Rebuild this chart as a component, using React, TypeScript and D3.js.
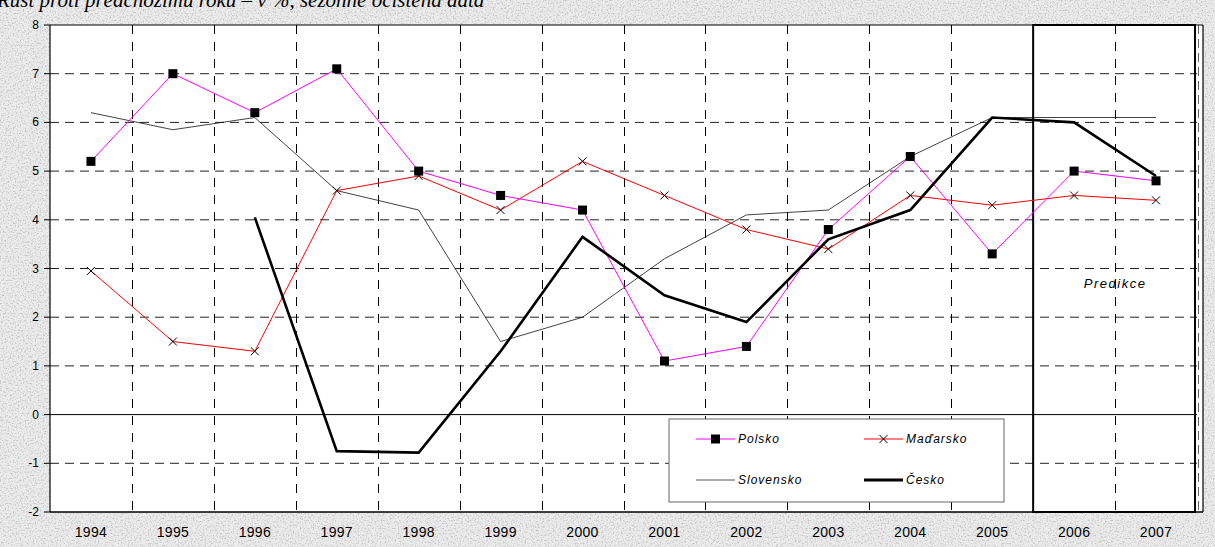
import * as d3 from 'd3'
import { FC } from 'react'

// years on the x axis
const years = ['1994', '1995', '1996', '1997', '1998', '1999', '2000', '2001', '2002', '2003', '2004', '2005', '2006', '2007']
const yTicks = [-2, -1, 0, 1, 2, 3, 4, 5, 6, 7, 8]

// series (null = no value)
const polsko = [5.2, 7.0, 6.2, 7.1, 5.0, 4.5, 4.2, 1.1, 1.4, 3.8, 5.3, 3.3, 5.0, 4.8]
const madarsko = [2.95, 1.5, 1.3, 4.6, 4.9, 4.2, 5.2, 4.5, 3.8, 3.4, 4.5, 4.3, 4.5, 4.4]
const slovensko = [6.2, 5.85, 6.1, 4.6, 4.2, 1.5, 2.0, 3.2, 4.1, 4.2, 5.3, 6.1, 6.1, 6.1]
const cesko: (number | null)[] = [null, null, 4.05, -0.75, -0.78, 1.3, 3.65, 2.45, 1.9, 3.6, 4.2, 6.1, 6.0, 4.9]

const predictionFrom = '2006'

const W = 1215
const H = 547
const margin = { top: 25, left: 50, right: 18, bottom: 35 }

const App: FC = () => {
  const plotRight = W - margin.right // 1197
  const plotBottom = H - margin.bottom // 512

  const x = d3.scaleBand<string>().domain(years).range([margin.left, plotRight]).padding(0)
  const y = d3.scaleLinear().domain([-2, 8]).range([plotBottom, margin.top])
  const cx = (yr: string) => (x(yr) as number) + x.bandwidth() / 2

  const line = d3
    .line<number | null>()
    .defined((d) => d !== null)
    .x((_, i) => cx(years[i]))
    .y((d) => y(d as number))

  // category boundaries
  const bounds = years.slice(1).map((yr) => x(yr) as number)
  const predX = x(predictionFrom) as number

  // legend box
  const lg = { x: 669, y: 419, w: 335, h: 83 }
  const row1 = lg.y + 20
  const row2 = lg.y + 61
  const col1 = lg.x + 27
  const col2 = lg.x + 195
  const legendText = {
    fontFamily: 'Liberation Sans, Arial, sans-serif',
    fontSize: 12,
    fontStyle: 'italic',
    letterSpacing: '1px',
    fill: '#000',
  } as const

  return (
    <svg
      width={W}
      height={H}
      style={{ position: 'absolute', left: 0, top: 0, display: 'block' }}
    >
      <defs>
        <filter id='granite' x='0' y='0' width={W} height={H} filterUnits='userSpaceOnUse'>
          <feTurbulence type='fractalNoise' baseFrequency='0.6' numOctaves='3' seed='5' result='n' />
          <feColorMatrix
            in='n'
            type='matrix'
            values='0 0 0 0 0.55  0 0 0 0 0.55  0 0 0 0 0.55  3 0 0 0 -1.45'
          />
        </filter>
      </defs>
      {/* textured background */}
      <rect x={0} y={0} width={W} height={H} fill='#ebebeb' />
      <rect x={0} y={0} width={W} height={H} fill='#fff' filter='url(#granite)' />

      {/* title, cut off at the top */}
      <text
        x={-3}
        y={7}
        fontFamily='Liberation Serif, Times New Roman, serif'
        fontStyle='italic'
        fontSize={21}
        fill='#000'
      >
        Růst proti předchozímu roku – v %, sezónně očištěná data
      </text>

      {/* plot area */}
      <rect x={margin.left} y={margin.top} width={plotRight + 6 - margin.left} height={plotBottom - margin.top} fill='#fff' />

      {/* horizontal grid */}
      {yTicks
        .filter((t) => t !== 0 && t !== -2 && t !== 8)
        .map((t) => (
          <line
            key={'h' + t}
            x1={margin.left}
            x2={plotRight}
            y1={y(t)}
            y2={y(t)}
            stroke='#222'
            strokeWidth={1}
            strokeDasharray='9,6'
          />
        ))}
      {/* vertical grid */}
      {bounds.map((b) => (
        <line
          key={'v' + b}
          x1={Math.round(b) + 0.5}
          x2={Math.round(b) + 0.5}
          y1={margin.top}
          y2={plotBottom}
          stroke='#000'
          strokeWidth={1}
          strokeDasharray='9,8'
        />
      ))}
      <line
        x1={plotRight + 1.5}
        x2={plotRight + 1.5}
        y1={margin.top}
        y2={plotBottom}
        stroke='#666'
        strokeWidth={1}
        strokeDasharray='9,5'
      />
      {/* zero line */}
      <line x1={margin.left} x2={plotRight} y1={y(0)} y2={y(0)} stroke='#000' strokeWidth={1} />

      {/* frame */}
      <line x1={margin.left} x2={margin.left} y1={margin.top} y2={plotBottom} stroke='#000' strokeWidth={1.2} />
      <line x1={margin.left} x2={plotRight + 6} y1={margin.top} y2={margin.top} stroke='#000' strokeWidth={1.2} />
      <line x1={plotRight + 6} x2={plotRight + 6} y1={margin.top} y2={plotBottom} stroke='#000' strokeWidth={1.2} />
      <line x1={margin.left} x2={plotRight + 6} y1={plotBottom} y2={plotBottom} stroke='#000' strokeWidth={1.5} />

      {/* prediction box */}
      <rect
        x={predX}
        y={margin.top}
        width={plotRight - 2 - predX}
        height={plotBottom - margin.top}
        fill='none'
        stroke='#000'
        strokeWidth={2}
      />
      <text
        x={(predX + plotRight) / 2}
        y={y(2.6)}
        textAnchor='middle'
        {...legendText}
        fontSize={13}
        letterSpacing='1.5px'
      >
        Predikce
      </text>

      {/* y axis */}
      {yTicks.map((t) => (
        <g key={'yt' + t}>
          <line x1={margin.left - 6} x2={margin.left} y1={y(t)} y2={y(t)} stroke='#000' />
          <text
            x={margin.left - 11}
            y={y(t) + 4}
            textAnchor='end'
            fontFamily='Liberation Sans, Arial, sans-serif'
            fontSize={12}
          >
            {t}
          </text>
        </g>
      ))}
      {/* x labels */}
      {years.map((yr) => (
        <text
          key={'xl' + yr}
          x={cx(yr)}
          y={plotBottom + 25}
          textAnchor='middle'
          fontFamily='Liberation Sans, Arial, sans-serif'
          fontSize={14}
          letterSpacing='0.3px'
        >
          {yr}
        </text>
      ))}

      {/* series */}
      <path d={line(slovensko) ?? ''} fill='none' stroke='#111' strokeWidth={0.8} />
      <path d={line(madarsko) ?? ''} fill='none' stroke='#ff0000' strokeWidth={1} />
      <path d={line(polsko) ?? ''} fill='none' stroke='#ff00ff' strokeWidth={1} />
      <path d={line(cesko) ?? ''} fill='none' stroke='#000' strokeWidth={2.6} />
      {madarsko.map((v, i) => {
        const px = cx(years[i])
        const py = y(v)
        return (
          <path
            key={'m' + i}
            d={`M${px - 4},${py - 4}L${px + 4},${py + 4}M${px - 4},${py + 4}L${px + 4},${py - 4}`}
            stroke='#000'
            strokeWidth={1}
          />
        )
      })}
      {polsko.map((v, i) => (
        <rect key={'p' + i} x={cx(years[i]) - 4.5} y={y(v) - 4.5} width={9} height={9} fill='#000' />
      ))}

      {/* legend */}
      <rect x={lg.x} y={lg.y} width={lg.w} height={lg.h} fill='#fff' stroke='#666' strokeWidth={1} />
      <line x1={col1} x2={col1 + 39} y1={row1} y2={row1} stroke='#ff00ff' />
      <rect x={col1 + 15} y={row1 - 4.5} width={9} height={9} fill='#000' />
      <text x={col1 + 42} y={row1 + 4} {...legendText}>
        Polsko
      </text>
      <line x1={col2} x2={col2 + 39} y1={row1} y2={row1} stroke='#ff0000' />
      <path
        d={`M${col2 + 15.5},${row1 - 4}L${col2 + 23.5},${row1 + 4}M${col2 + 15.5},${row1 + 4}L${col2 + 23.5},${row1 - 4}`}
        stroke='#000'
      />
      <text x={col2 + 42} y={row1 + 4} {...legendText}>
        Maďarsko
      </text>
      <line x1={col1} x2={col1 + 39} y1={row2} y2={row2} stroke='#555' />
      <text x={col1 + 42} y={row2 + 4} {...legendText}>
        Slovensko
      </text>
      <line x1={col2} x2={col2 + 39} y1={row2} y2={row2} stroke='#000' strokeWidth={3} />
      <text x={col2 + 42} y={row2 + 4} {...legendText}>
        Česko
      </text>
    </svg>
  )
}

export default App
